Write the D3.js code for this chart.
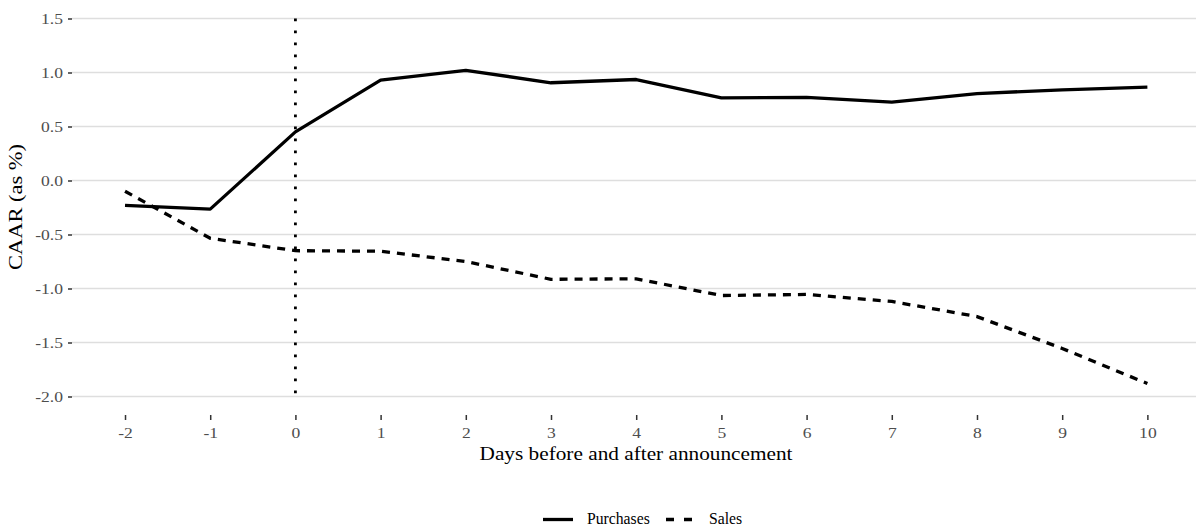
<!DOCTYPE html>
<html><head><meta charset="utf-8">
<script src="https://cdn.jsdelivr.net/npm/d3@7"></script>
<style>
body{margin:0;background:#fff;}
svg text{font-family:"Liberation Serif","Times New Roman",serif;}
</style></head>
<body><svg id="chart" width="1196" height="529"></svg>
<script>
const days = [-2,-1,0,1,2,3,4,5,6,7,8,9,10];
const purchases = [-0.23,-0.265,0.45,0.93,1.02,0.905,0.935,0.765,0.77,0.725,0.805,0.84,0.865];
const sales = [-0.10,-0.535,-0.65,-0.655,-0.75,-0.915,-0.91,-1.065,-1.055,-1.12,-1.26,-1.555,-1.88];
const yTicks = [-2.0,-1.5,-1.0,-0.5,0.0,0.5,1.0,1.5];
const seriesNames = ["Purchases","Sales"];
const xTitle = "Days before and after announcement";
const yTitle = "CAAR (as %)";

const svg = d3.select("#chart");
const x = d3.scaleLinear().domain([-2.6,10.6]).range([73.9,1198.5]);
const y = d3.scaleLinear().domain([-2.175,1.675]).range([415.4,-0.4]);
const sx = 1.17;

// grid
svg.append("g").selectAll("line").data(yTicks).join("line")
  .attr("x1",72).attr("x2",1196)
  .attr("y1",d=>y(d)).attr("y2",d=>y(d))
  .attr("stroke","#DEDEDE").attr("stroke-width",1.6);

// y axis
const yAxis = svg.append("g").attr("transform","translate(72,0)")
  .call(d3.axisLeft(y).tickValues(yTicks).tickSize(4).tickPadding(4));
yAxis.select(".domain").remove();
yAxis.selectAll(".tick line").attr("stroke","#333").attr("stroke-width",1.5);
yAxis.selectAll(".tick text").attr("fill","#4D4D4D").style("font-size","15px")
  .attr("x",0).attr("dy","0.34em").attr("text-anchor","end")
  .attr("transform",`translate(-9,0) scale(${sx},1)`)
  .text(d=> d<0 ? "-"+Math.abs(d).toFixed(1) : d.toFixed(1));

// x axis
const xAxis = svg.append("g").attr("transform","translate(0,415)")
  .call(d3.axisBottom(x).tickValues(days).tickSize(5).tickPadding(5));
xAxis.select(".domain").remove();
xAxis.selectAll(".tick line").attr("stroke","#333").attr("stroke-width",1.5);
xAxis.selectAll(".tick text").attr("fill","#4D4D4D").style("font-size","15px")
  .attr("y",0).attr("dy",0)
  .attr("transform",`translate(0,22.6) scale(${sx},1)`)
  .text(d=>d<0?"-"+Math.abs(d):String(d));

// vline at 0
svg.append("line").attr("x1",x(0)).attr("x2",x(0))
  .attr("y1",y(1.5)).attr("y2",y(-2.0))
  .attr("stroke","#000").attr("stroke-width",2.8).attr("stroke-dasharray","2.8 9.2");

const line = d3.line().x((d,i)=>x(days[i])).y(d=>y(d));
svg.append("path").datum(purchases).attr("d",line)
  .attr("fill","none").attr("stroke","#000").attr("stroke-width",3.3).attr("stroke-linejoin","round");
svg.append("path").datum(sales).attr("d",line)
  .attr("fill","none").attr("stroke","#000").attr("stroke-width",3.3).attr("stroke-dasharray","8 7").attr("stroke-linejoin","round");

// titles
svg.append("text").attr("transform","translate(636,460) scale(1.12,1)").attr("text-anchor","middle")
  .style("font-size","19px").attr("fill","#000").text(xTitle);
svg.append("text").attr("transform","translate(21.5,207) rotate(-90) scale(1.25,1)").attr("text-anchor","middle")
  .style("font-size","18px").attr("fill","#000").text(yTitle);

// legend
const lg = svg.append("g");
lg.append("line").attr("x1",543).attr("x2",573).attr("y1",519.5).attr("y2",519.5)
  .attr("stroke","#000").attr("stroke-width",3.3);
lg.append("text").attr("x",587).attr("y",524.3).style("font-size","15.7px").text(seriesNames[0]);
lg.append("line").attr("x1",666).attr("x2",692).attr("y1",519.5).attr("y2",519.5)
  .attr("stroke","#000").attr("stroke-width",3.3).attr("stroke-dasharray","8 10");
lg.append("text").attr("x",709).attr("y",524.3).style("font-size","15.7px").text(seriesNames[1]);
</script></body></html>
